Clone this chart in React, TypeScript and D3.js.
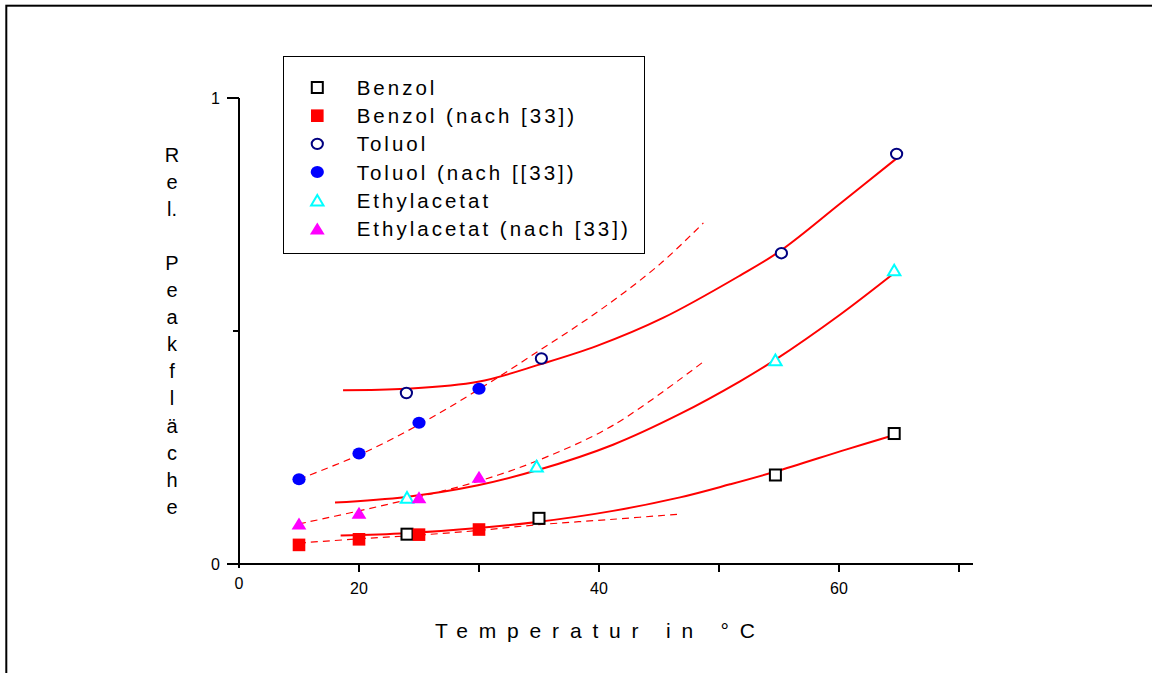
import React from "react";
import * as d3 from "d3";

// ---- data ----
const benzolX = [24, 35, 54.7, 64.6];
const benzolY = [0.064, 0.098, 0.191, 0.28];
const benzolLitX = [15, 20, 25, 30];
const benzolLitY = [0.041, 0.053, 0.063, 0.074];
const toluolX = [23.95, 35.2, 55.2, 64.8];
const toluolY = [0.367, 0.441, 0.667, 0.88];
const toluolLitX = [15, 20, 25, 30];
const toluolLitY = [0.182, 0.237, 0.303, 0.376];
const ethylX = [24, 34.8, 54.7, 64.6];
const ethylY = [0.143, 0.21, 0.438, 0.631];
const ethylLitX = [15, 20, 25, 30];
const ethylLitY = [0.087, 0.11, 0.143, 0.187];

// fitted curves (solid)
const toluolFitX = [18.67, 23.92, 29.92, 35.17, 39.83, 45.33, 51.75, 55.17, 60.08, 64.83];
const toluolFitY = [0.373, 0.376, 0.391, 0.429, 0.468, 0.528, 0.619, 0.673, 0.773, 0.871];
const ethylFitX = [18.0, 23.92, 29.92, 34.83, 41.17, 46.75, 51.75, 54.67, 60.08, 64.58];
const ethylFitY = [0.132, 0.144, 0.169, 0.201, 0.256, 0.322, 0.392, 0.438, 0.535, 0.624];
const benzolFitX = [18.47, 23.92, 29.92, 34.83, 41.17, 46.75, 50.92, 54.67, 60.64, 64.61];
const benzolFitY = [0.061, 0.066, 0.077, 0.09, 0.114, 0.143, 0.171, 0.198, 0.246, 0.277];

// fitted curves (dashed) for literature data
const toluolLitFitX = [15, 20, 25, 30, 35.2, 40.1, 45.1, 48.7];
const toluolLitFitY = [0.182, 0.234, 0.299, 0.375, 0.461, 0.545, 0.644, 0.732];
const ethylLitFitX = [15, 20, 25, 30, 34.8, 41.2, 48.7];
const ethylLitFitY = [0.086, 0.114, 0.144, 0.178, 0.221, 0.298, 0.434];
const benzolLitFitX = [15, 20, 25, 30, 34.8, 41.2, 46.7];
const benzolLitFitY = [0.045, 0.054, 0.062, 0.072, 0.084, 0.096, 0.107];

const xTickValues = [20, 30, 40, 50, 60, 70];
const xTickLabels = ["20", "", "40", "", "60", ""];
const yTickValues = [0, 0.5, 1];
const yTickLabels = ["0", "", "1"];
const originXLabel = "0";

const legendLabels = [
  "Benzol",
  "Benzol (nach [33])",
  "Toluol",
  "Toluol (nach [[33])",
  "Ethylacetat",
  "Ethylacetat (nach [33])",
];
const legendMarkers = ["sqOpen", "sqFill", "cOpen", "cFill", "tOpen", "tFill"];

const yLabelChars = ["R", "e", "l.", "", "P", "e", "a", "k", "f", "l", "ä", "c", "h", "e"];
const xTitle = "Temperatur in °C";

const FONT = "'Liberation Sans', Arial, Helvetica, sans-serif";
const NARROW = "'Liberation Sans Narrow', 'Arial Narrow', 'Liberation Sans', Arial, sans-serif";

const zip = (xs: number[], ys: number[]) => xs.map((x, i) => [x, ys[i]] as [number, number]);

function Marker({ kind, cx, cy }: { kind: string; cx: number; cy: number }) {
  switch (kind) {
    case "sqOpen":
      return <rect x={cx - 5.5} y={cy - 5.5} width={11} height={11} fill="white" stroke="#000" strokeWidth={2} />;
    case "sqFill":
      return <rect x={cx - 6.3} y={cy - 6.3} width={12.6} height={12.6} fill="#ff0000" />;
    case "cOpen":
      return <ellipse cx={cx} cy={cy} rx={5.6} ry={5.2} fill="white" stroke="#000080" strokeWidth={2} />;
    case "cFill":
      return <ellipse cx={cx} cy={cy} rx={6.6} ry={6} fill="#0000ff" />;
    case "tOpen":
      return (
        <polygon
          points={`${cx},${cy - 5.3} ${cx + 6.2},${cy + 5.3} ${cx - 6.2},${cy + 5.3}`}
          fill="white"
          stroke="#00ffff"
          strokeWidth={2}
        />
      );
    case "tFill":
      return (
        <polygon points={`${cx},${cy - 6} ${cx + 7.4},${cy + 6} ${cx - 7.4},${cy + 6}`} fill="#ff00ff" />
      );
    default:
      return null;
  }
}

export default function App() {
  const x = d3.scaleLinear().domain([10, 70]).range([239, 959]);
  const y = d3.scaleLinear().domain([0, 1]).range([564, 98]);
  const line = d3
    .line<[number, number]>()
    .x((d) => x(d[0]))
    .y((d) => y(d[1]))
    .curve(d3.curveCatmullRom.alpha(0.5));

  const solid = [
    zip(toluolFitX, toluolFitY),
    zip(ethylFitX, ethylFitY),
    zip(benzolFitX, benzolFitY),
  ];
  const dashed = [
    zip(toluolLitFitX, toluolLitFitY),
    zip(ethylLitFitX, ethylLitFitY),
    zip(benzolLitFitX, benzolLitFitY),
  ];

  const series: { kind: string; xs: number[]; ys: number[] }[] = [
    { kind: "sqOpen", xs: benzolX, ys: benzolY },
    { kind: "tOpen", xs: ethylX, ys: ethylY },
    { kind: "cOpen", xs: toluolX, ys: toluolY },
    { kind: "sqFill", xs: benzolLitX, ys: benzolLitY },
    { kind: "tFill", xs: ethylLitX, ys: ethylLitY },
    { kind: "cFill", xs: toluolLitX, ys: toluolLitY },
  ];

  const [x0, x1] = x.range();
  const [y0, y1] = y.range();

  return (
    <svg
      width={1152}
      height={673}
      style={{ position: "absolute", left: 0, top: 0, background: "white" }}
      fontFamily={FONT}
    >
      <rect x={0} y={0} width={1152} height={673} fill="white" />
      {/* outer frame */}
      <rect x={6.3} y={5.7} width={1400} height={1000} fill="none" stroke="#000" strokeWidth={2} />

      {/* fitted lines */}
      {dashed.map((d, i) => (
        <path key={"d" + i} d={line(d) || ""} fill="none" stroke="#ff0000" strokeWidth={1.2} strokeDasharray="7,5" />
      ))}
      {solid.map((d, i) => (
        <path key={"s" + i} d={line(d) || ""} fill="none" stroke="#ff0000" strokeWidth={2} />
      ))}

      {/* markers */}
      {series.map((s, si) =>
        s.xs.map((v, i) => <Marker key={si + "-" + i} kind={s.kind} cx={x(v)} cy={y(s.ys[i])} />)
      )}

      {/* axes */}
      <line x1={x0 - 12} x2={x1 + 14} y1={y0} y2={y0} stroke="#000" strokeWidth={2} />
      <line x1={x0} x2={x0} y1={y1} y2={y0 + 4} stroke="#000" strokeWidth={2} />
      {xTickValues.map((t, i) => (
        <g key={"xt" + i}>
          <line x1={x(t)} x2={x(t)} y1={y0} y2={y0 + 8} stroke="#000" strokeWidth={2} />
          {xTickLabels[i] && (
            <text x={x(t)} y={594} textAnchor="middle" fontSize={16} fontFamily={NARROW}>
              {xTickLabels[i]}
            </text>
          )}
        </g>
      ))}
      <text x={x(10)} y={589} textAnchor="middle" fontSize={16} fontFamily={NARROW}>
        {originXLabel}
      </text>
      {yTickValues.map((t, i) => (
        <g key={"yt" + i}>
          <line
            x1={x0 - (yTickLabels[i] ? 12 : 6)}
            x2={x0}
            y1={y(t)}
            y2={y(t)}
            stroke="#000"
            strokeWidth={2}
          />
          {yTickLabels[i] && (
            <text x={220} y={y(t) + 6} textAnchor="end" fontSize={16} fontFamily={NARROW}>
              {yTickLabels[i]}
            </text>
          )}
        </g>
      ))}

      {/* axis titles */}
      <text x={435} y={638} fontSize={21} fontFamily={NARROW} textLength={320} lengthAdjust="spacing">
        {xTitle}
      </text>
      {yLabelChars.map((c, i) => (
        <text key={"yl" + i} x={172} y={162 + i * 27.05} textAnchor="middle" fontSize={20}>
          {c}
        </text>
      ))}

      {/* legend */}
      <rect x={283.5} y={56.5} width={361} height={197} fill="white" stroke="#000" strokeWidth={1} />
      {legendLabels.map((l, i) => {
        const cy = 87.5 + i * 28.2;
        return (
          <g key={"lg" + i}>
            <Marker kind={legendMarkers[i]} cx={317.3} cy={cy} />
            <text x={356.7} y={cy + 7.5} fontSize={20.5} letterSpacing={3}>
              {l}
            </text>
          </g>
        );
      })}
    </svg>
  );
}
